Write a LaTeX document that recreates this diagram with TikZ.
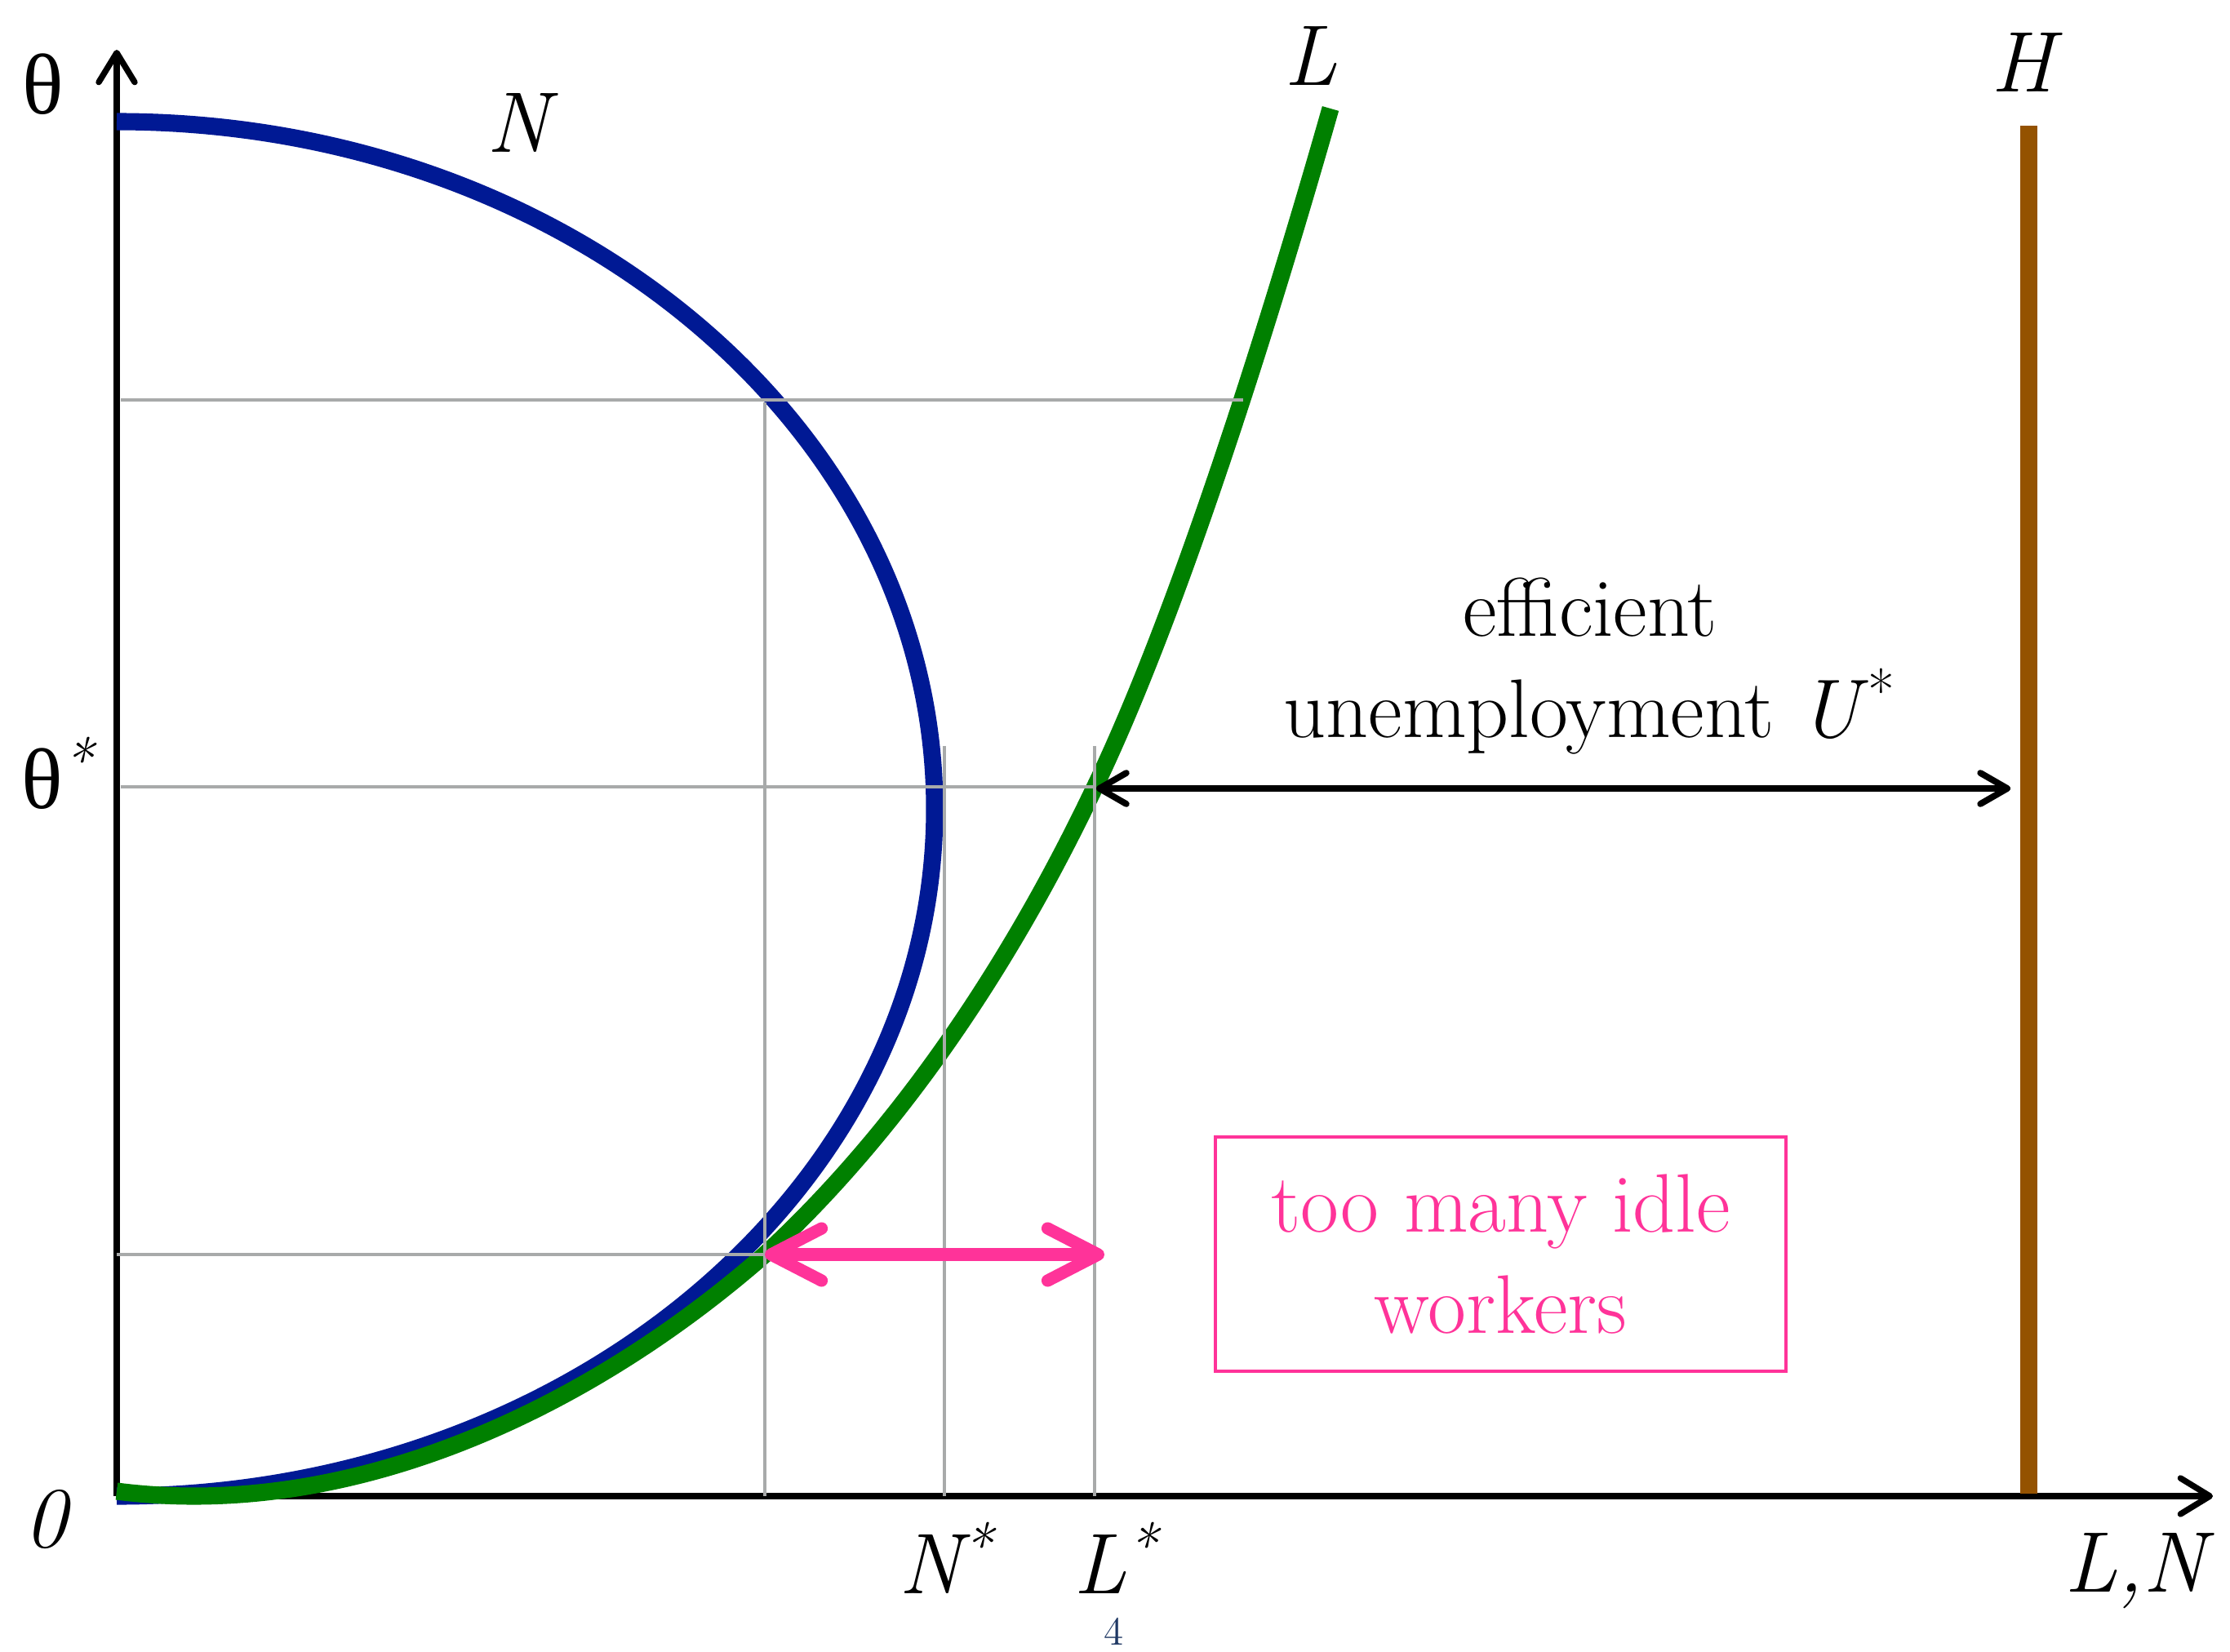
\documentclass[tikz,border=0pt]{standalone}
\usepackage{fontspec}
\newfontfamily\greekfont{Liberation Serif}
\usetikzlibrary{arrows.meta}

\definecolor{ncol}{RGB}{0,25,148}
\definecolor{lcol}{RGB}{0,128,0}
\definecolor{hcol}{RGB}{148,82,0}
\definecolor{idle}{RGB}{255,51,153}
\definecolor{guide}{RGB}{168,170,170}
\definecolor{pagenum}{RGB}{31,56,100}

\begin{document}
\begin{tikzpicture}[
  lbl/.style={font=\fontsize{30}{36}\selectfont\itshape, anchor=base, inner sep=0pt},
  txt/.style={font=\fontsize{29}{35.5}\selectfont, align=center},
  axisline/.style={line width=2.1pt, -abarb},
  guideline/.style={draw=guide, line width=1.3pt},
  curve/.style={line width=6pt},
  gap/.style={line width=2.2pt, bbarb-bbarb},
  idlegap/.style={draw=idle, line width=4.3pt, pbarb-pbarb},
  abarb/.tip={Straight Barb[length=3.6mm, width=4.4mm, line cap=round, line join=round]},
  bbarb/.tip={Straight Barb[length=3.3mm, width=3.8mm, line cap=round, line join=round]},
  pbarb/.tip={Straight Barb[length=6.2mm, width=6.4mm, line cap=round, line join=round]}]
  \useasboundingbox (-1.43,-1.90) rectangle (25.89,18.33);

  \coordinate (O) at (0,0);
  \coordinate (ytop) at (0,17.72);
  \coordinate (xend) at (25.68,0);
  \coordinate (lowL) at (7.94,2.96);
  \coordinate (lowR) at (12.10,2.96);
  \coordinate (starL) at (12.00,8.67);
  \coordinate (starH) at (23.20,8.67);

  % axes
  \draw[axisline] (O) -- (ytop);
  \draw[axisline] (O) -- (xend);

  % curves
  \draw[curve, ncol] (0,16.84) arc[start angle=90, end angle=-90, x radius=10.02, y radius=8.42];
  \draw[curve, lcol] (0,0.06) .. controls (2.8,-0.3) and (5.7,1.0) .. (lowL)
    .. controls (9.34,4.25) and (10.77,6.14) .. (11.97,8.66)
    .. controls (13.1,11.0) and (14.3,15.0) .. (14.87,17.00);
  \draw[curve, hcol] (23.42,0.03) -- (23.42,16.79);

  % guides
  \draw[guideline] (0.05,13.43) -- (13.80,13.43);
  \draw[guideline] (0.05,8.69) -- (11.98,8.69);
  \draw[guideline] (0,2.96) -- (7.94,2.96);
  \draw[guideline] (7.94,13.40) -- (7.94,0);
  \draw[guideline] (10.14,9.19) -- (10.14,0);
  \draw[guideline] (11.98,9.19) -- (11.98,0);

  % gaps
  \draw[gap] (starL) -- (starH);
  \draw[idlegap] (lowL) -- (lowR);

  % labels
  \node[lbl] (theta) at (-0.90,16.93) {\upshape\greekfont θ};
  \node[lbl] (thetastar) at (-0.72,8.43) {{\upshape\greekfont θ}\textsuperscript{*}};
  \node[lbl] (zero) at (-0.87,-0.62) {0};
  \node[lbl] (Nlab) at (4.92,16.46) {N};
  \node[lbl] (Llab) at (14.63,17.28) {L};
  \node[lbl] (Hlab) at (23.35,17.20) {H};
  \node[lbl] (Nstar) at (10.16,-1.19) {N\textsuperscript{*}};
  \node[lbl] (Lstar) at (12.24,-1.19) {L\textsuperscript{*}};
  \node[lbl] (LN) at (24.73,-1.17) {L,N};
  \node[font=\fontsize{14}{16}\selectfont, text=pagenum, anchor=base, inner sep=0pt] (page) at (12.22,-1.82) {4};

  \node[txt] (ustar) at (18.05,10.17) {efficient\\unemployment \textit{U}\textsuperscript{*}};
  \node[txt, draw=idle, text=idle, line width=1.2pt, minimum width=6.99cm, minimum height=2.87cm] (idlebox) at (16.955,2.965) {too many idle\\workers};
\end{tikzpicture}
\end{document}
